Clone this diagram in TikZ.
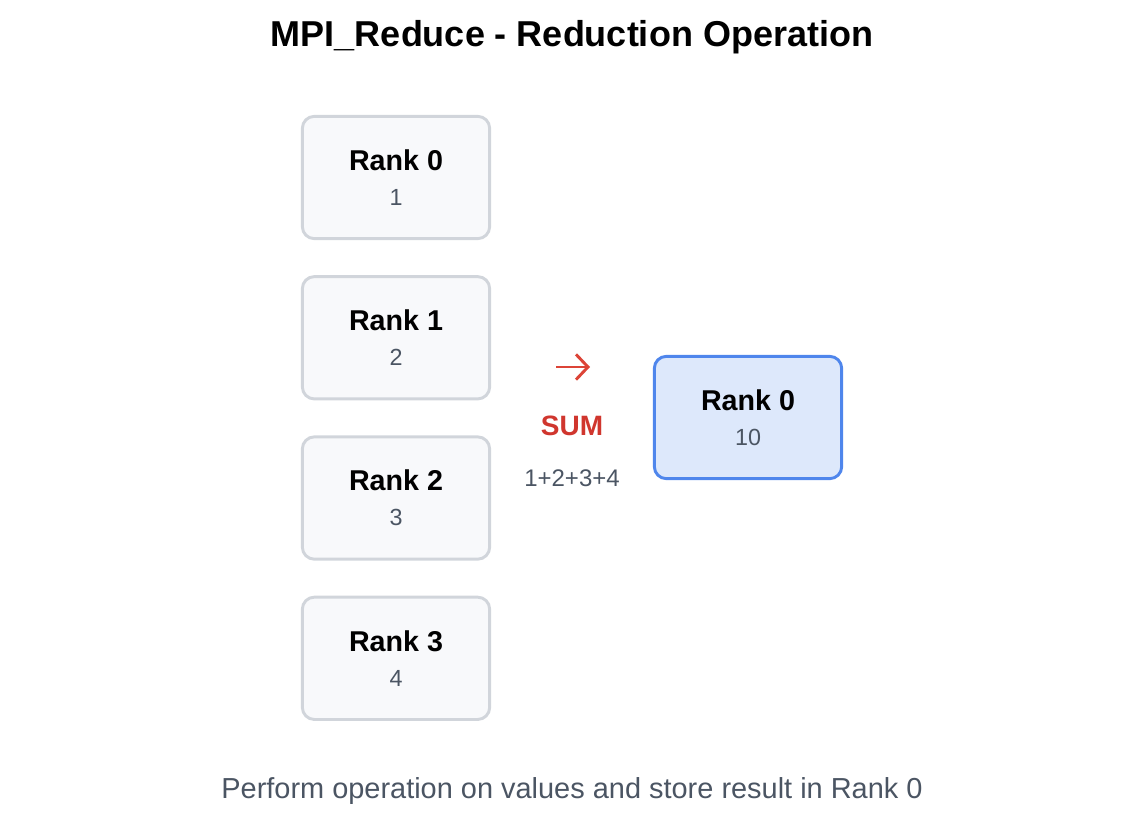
\documentclass[tikz,border=0pt]{standalone}
\usepackage{fontspec}
\setmainfont{Liberation Sans}
\usepackage{xcolor}
\usetikzlibrary{arrows.meta,positioning}
\definecolor{boxBorder}{HTML}{D1D5DB}
\definecolor{boxFill}{HTML}{F8F9FB}
\definecolor{resBorder}{HTML}{4F86EC}
\definecolor{resFill}{HTML}{DDE8FB}
\definecolor{valGrey}{HTML}{4B5563}
\definecolor{opRed}{HTML}{DC4437}
\definecolor{sumRed}{HTML}{D0362E}
\newcommand{\rankval}[2]{{\bfseries #1}\\{\fontsize{17.5}{26}\selectfont\color{valGrey}#2}}

\begin{document}
\begin{tikzpicture}[
    x=0.75pt, y=-0.75pt,
    rankbox/.style={draw=boxBorder, fill=boxFill, line width=2.2pt,
                    rounded corners=9pt, minimum width=140.5pt,
                    minimum height=91.75pt, align=center, inner sep=0pt,
                    font=\fontsize{21.5}{26}\selectfont},
    resbox/.style={rankbox, draw=resBorder, fill=resFill},
    note/.style={font=\fontsize{21.7}{25}\selectfont, text=valGrey},
  ]
  \useasboundingbox (0,0) rectangle (1138,820);

  % --- title ---
  \node[font=\fontsize{27}{32}\selectfont\bfseries] (title) at (572,37)
    {MPI\_Reduce - Reduction Operation};

  % --- source ranks (top to bottom) ---
  \node[rankbox] (r0) at (396,177.5) {\rankval{Rank 0}{1}};
  \node[rankbox, below=26.25pt of r0] (r1) {\rankval{Rank 1}{2}};
  \node[rankbox, below=26.25pt of r1] (r2) {\rankval{Rank 2}{3}};
  \node[rankbox, below=26.25pt of r2] (r3) {\rankval{Rank 3}{4}};

  % --- reduction operator ---
  \coordinate (opS) at (556,367);
  \coordinate (opE) at (590,367);
  \draw[opRed, line width=2.2pt, -{Straight Barb[length=9pt, width=19pt]}]
    (opS) -- (opE);
  \node[font=\fontsize{21}{25}\selectfont\bfseries, text=sumRed] (op) at (572,426) {SUM};
  \node[note, font=\fontsize{18}{22}\selectfont] (expr) at (572,478) {1+2+3+4};

  % --- result ---
  \node[resbox] (res) at (748,417.5) {\rankval{Rank 0}{10}};

  % --- caption ---
  \node[note] (cap) at (572,791) {Perform operation on values and store result in Rank 0};

\end{tikzpicture}
\end{document}
